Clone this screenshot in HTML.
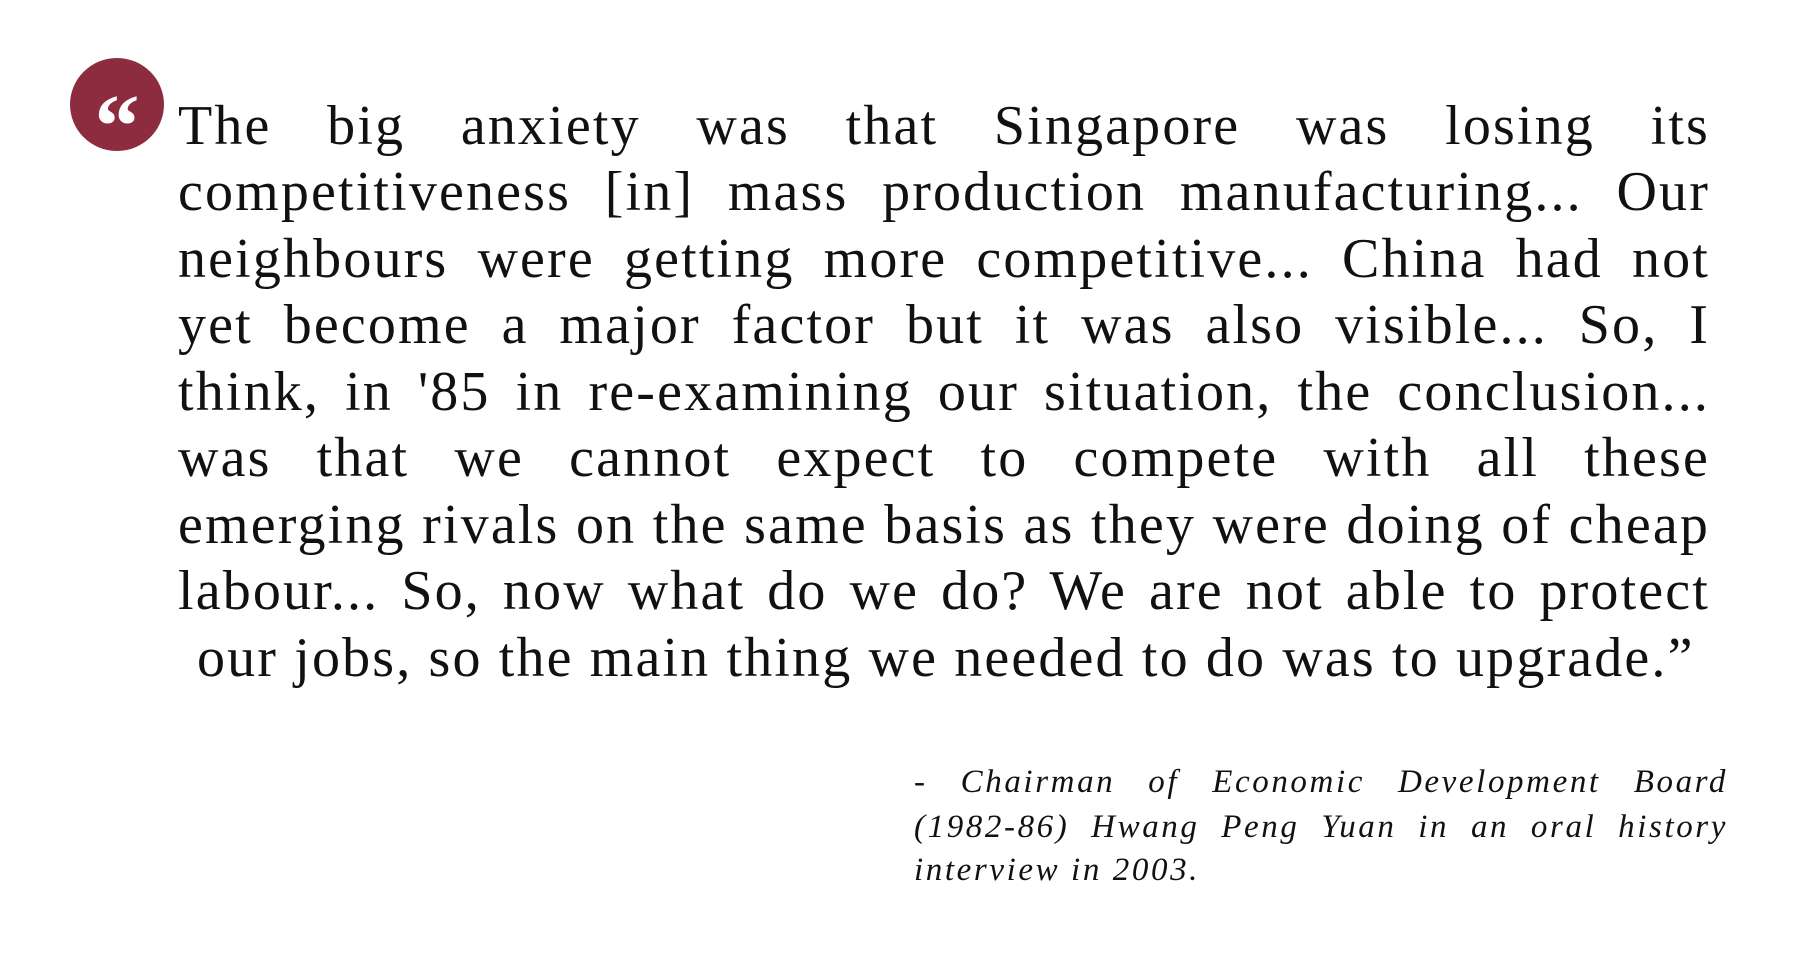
<!DOCTYPE html>
<html><head><meta charset="utf-8"><style>
html,body{margin:0;padding:0;background:#fff;}
body{width:1820px;height:976px;position:relative;overflow:hidden;}
.q{position:absolute;left:178px;width:1532px;font-family:"Liberation Serif",serif;font-size:56px;line-height:56px;color:#111;white-space:nowrap;text-align:justify;text-align-last:justify;letter-spacing:2.15px;}
.a{position:absolute;left:914px;width:814px;font-family:"Liberation Serif",serif;font-style:italic;font-size:33px;line-height:33px;color:#111;white-space:nowrap;text-align:justify;text-align-last:justify;letter-spacing:2.6px;}
</style></head><body>
<div style="position:absolute;left:70px;top:58px;width:94px;height:93px;border-radius:50%;background:#8c2c3e;"></div>
<div style="position:absolute;left:70px;top:82px;width:94px;text-align:center;color:#fff;font-family:'Liberation Serif',serif;font-weight:bold;font-size:90px;line-height:90px;">&#8220;</div>
<div>
<div class="q" style="top:98px">The big anxiety was that Singapore was losing its</div>
<div class="q" style="top:164px">competitiveness [in] mass production manufacturing... Our</div>
<div class="q" style="top:231px">neighbours were getting more competitive... China had not</div>
<div class="q" style="top:297px">yet become a major factor but it was also visible... So, I</div>
<div class="q" style="top:364px">think, in '85 in re-examining our situation, the conclusion...</div>
<div class="q" style="top:430px">was that we cannot expect to compete with all these</div>
<div class="q" style="top:497px">emerging rivals on the same basis as they were doing of cheap</div>
<div class="q" style="top:563px">labour... So, now what do we do? We are not able to protect</div>
<div class="q" style="top:630px;left:197px;width:auto;text-align:left;text-align-last:left;">our jobs, so the main thing we needed to do was to upgrade.&#8221;</div>
</div>
<div>
<div class="a" style="top:766px">- Chairman of Economic Development Board</div>
<div class="a" style="top:811px">(1982-86) Hwang Peng Yuan in an oral history</div>
<div class="a" style="top:854px;width:auto;text-align:left;text-align-last:left;">interview in 2003.</div>
</div>
</body></html>
